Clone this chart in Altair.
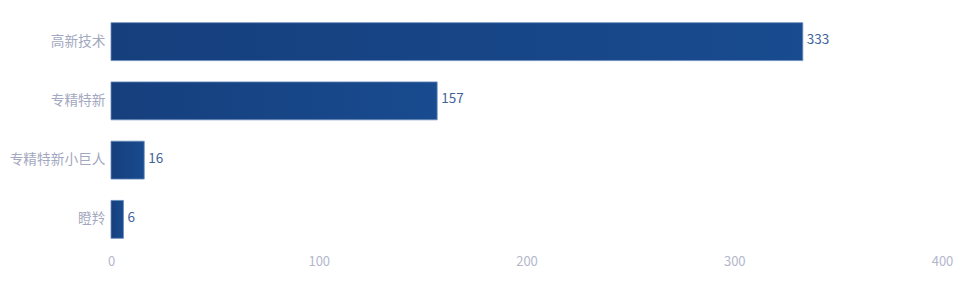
import altair as alt
import pandas as pd

categories = ["高新技术", "专精特新", "专精特新小巨人", "瞪羚"]
values = [333, 157, 16, 6]
x_ticks = [0, 100, 200, 300, 400]

df = pd.DataFrame({"cat": categories, "val": values})

FONT = "Noto Sans CJK SC"

y_enc = alt.Y("cat:N", sort=categories, title=None,
              scale=alt.Scale(paddingInner=0.36, paddingOuter=0.18),
              axis=alt.Axis(domain=False, ticks=False, labelPadding=6,
                            labelColor="#a3a8c0", labelFont=FONT, labelFontSize=13.7))

x_enc = alt.X("val:Q", title=None,
              scale=alt.Scale(domain=[0, 400], nice=False),
              axis=alt.Axis(values=x_ticks, domain=False, ticks=False, grid=False,
                            labelFlush=False, labelOverlap=False,
                            labelPadding=6, labelColor="#b3b7cc", labelFont=FONT,
                            labelFontSize=13))

bars = alt.Chart(df).mark_bar(
    color=alt.Gradient(gradient="linear", x1=0, x2=1, y1=0, y2=0,
                       stops=[alt.GradientStop(color="#163f7d", offset=0),
                              alt.GradientStop(color="#184b8f", offset=1)]),
    stroke="#6a8cbd", strokeWidth=0.8
).encode(x=x_enc, y=y_enc)

labels = alt.Chart(df).mark_text(
    align="left", baseline="middle", dx=4, dy=-1.5, font=FONT, fontSize=13.5,
    color="#3f639b"
).encode(x="val:Q", y=alt.Y("cat:N", sort=categories), text="val:Q")

chart = (bars + labels).properties(
    width=831, height=237,
    padding={"left": 111, "top": 12, "right": 18, "bottom": 37},
    autosize=alt.AutoSizeParams(type="none"),
    background="white"
).configure_view(stroke=None)

chart.save("out.html", embed_options={"renderer": "svg", "actions": False})
